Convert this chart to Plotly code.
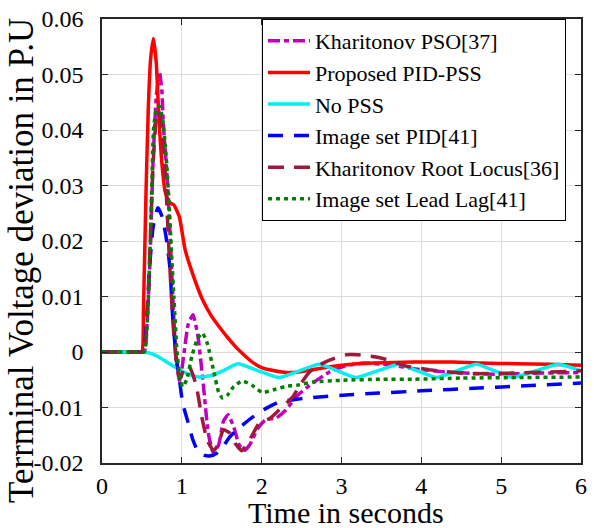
import plotly.graph_objects as go

# ---- data ----
t_pso = [0, 0.45, 0.53, 0.56, 0.6, 0.64, 0.68, 0.72, 0.75, 0.77, 0.81, 0.85, 0.89, 0.93, 0.975, 1.02, 1.08, 1.14,
         1.2, 1.27, 1.33, 1.39, 1.46, 1.52, 1.58, 1.65, 1.72, 1.79, 1.86, 1.95, 2.05, 2.18, 2.3, 2.43, 2.6,
         2.85, 3.05, 3.27, 3.6, 3.9, 4.31, 4.93, 5.5, 6.0]
v_pso = [0, 0, 0, 0.004, 0.016, 0.0345, 0.046, 0.0505, 0.047, 0.0405, 0.0328, 0.022, 0.009, -0.0015, -0.0056,
         -0.001, 0.005, 0.0067, 0.003, -0.006, -0.0145, -0.018, -0.0168, -0.0125, -0.0113, -0.0135, -0.0168,
         -0.0177, -0.0165, -0.0138, -0.0122, -0.0119, -0.0105, -0.0081, -0.006, -0.0036, -0.0025, -0.002,
         -0.0023, -0.003, -0.0036, -0.004, -0.0038, -0.0037]

t_pid = [0, 0.45, 0.5, 0.52, 0.55, 0.58, 0.61, 0.645, 0.68, 0.71, 0.75, 0.79, 0.84, 0.9, 0.97, 1.04, 1.15, 1.26,
         1.37, 1.47, 1.58, 1.69, 1.8, 1.9, 2.0, 2.1, 2.25, 2.4, 2.6, 2.8, 3.06, 3.4, 3.9, 4.4, 4.74, 5.2, 5.6, 6.0]
v_pid = [0, 0, 0, 0.008, 0.028, 0.044, 0.053, 0.0565, 0.052, 0.043, 0.034, 0.029, 0.027, 0.0265, 0.0243,
         0.0185, 0.0135, 0.0094, 0.0065, 0.0045, 0.0025, 0.0007, -0.0008, -0.002, -0.0028, -0.0032, -0.0036,
         -0.0037, -0.0033, -0.0028, -0.0023, -0.002, -0.0018, -0.0018, -0.002, -0.0021, -0.0022, -0.0024]

t_nopss = [0, 0.45, 0.5, 0.6, 0.7, 0.81, 0.95, 1.08, 1.2, 1.35, 1.5, 1.7, 1.96, 2.22, 2.47, 2.72, 2.95, 3.18,
           3.45, 3.72, 3.95, 4.19, 4.44, 4.69, 4.92, 5.14, 5.43, 5.72, 6.0]
v_nopss = [0, 0, 0, -0.0002, -0.0008, -0.0018, -0.003, -0.004, -0.0045, -0.0043, -0.0035, -0.0021, -0.0034,
           -0.0046, -0.0034, -0.0022, -0.0034, -0.0046, -0.0034, -0.0022, -0.0034, -0.0046, -0.0034, -0.0022,
           -0.0034, -0.0046, -0.0034, -0.0022, -0.0034]

t_img_pid = [0, 0.45, 0.52, 0.56, 0.6, 0.64, 0.7, 0.75, 0.8, 0.85, 0.89, 0.93, 0.97, 1.01, 1.08, 1.14, 1.2, 1.28,
             1.36, 1.44, 1.52, 1.6, 1.75, 1.89, 2.05, 2.22, 2.4, 2.56, 2.8, 3.1, 3.47, 4.0, 4.72, 5.3, 6.0]
v_img_pid = [0, 0, 0, 0.006, 0.016, 0.0225, 0.026, 0.0245, 0.021, 0.0153, 0.0052, -0.0009, -0.005, -0.0092,
             -0.0128, -0.0159, -0.0178, -0.0186, -0.0187, -0.0182, -0.017, -0.0153, -0.0133, -0.0117, -0.0102,
             -0.009, -0.0086, -0.0083, -0.008, -0.0077, -0.0074, -0.007, -0.0065, -0.0061, -0.0056]

t_rl = [0, 0.45, 0.53, 0.56, 0.6, 0.64, 0.68, 0.71, 0.75, 0.79, 0.84, 0.89, 0.94, 0.98, 1.04, 1.1, 1.18, 1.25,
        1.32, 1.4, 1.46, 1.52, 1.6, 1.67, 1.75, 1.85, 1.97, 2.1, 2.25, 2.39, 2.5, 2.6, 2.77, 2.9, 3.06, 3.2,
        3.43, 3.6, 3.8, 4.1, 4.6, 5.14, 5.6, 6.0]
v_rl = [0, 0, 0, 0.005, 0.018, 0.034, 0.042, 0.0435, 0.041, 0.033, 0.018, 0.005, -0.003, -0.0048, -0.0025,
        -0.0028, -0.006, -0.0117, -0.016, -0.0178, -0.0165, -0.014, -0.0146, -0.0165, -0.0178, -0.0158,
        -0.0128, -0.012, -0.01, -0.0081, -0.0055, -0.0036, -0.002, -0.0012, -0.0005, -0.0005, -0.0009,
        -0.0015, -0.0025, -0.0032, -0.0039, -0.0038, -0.0036, -0.0034]

t_ll = [0, 0.45, 0.53, 0.57, 0.61, 0.645, 0.68, 0.72, 0.76, 0.8, 0.84, 0.87, 0.9, 0.94, 0.98, 1.01, 1.06, 1.13,
        1.2, 1.26, 1.32, 1.4, 1.46, 1.51, 1.57, 1.65, 1.76, 1.88, 2.01, 2.15, 2.3, 2.44, 2.64, 3.0, 3.5, 3.9,
        4.5, 5.2, 6.0]
v_ll = [0, 0, 0, 0.006, 0.022, 0.04, 0.0437, 0.0443, 0.042, 0.036, 0.027, 0.018, 0.01, 0.0, -0.005, -0.0063,
        -0.005, -0.0005, 0.0025, 0.0034, 0.0015, -0.0035, -0.0072, -0.0083, -0.0078, -0.0062, -0.0052,
        -0.006, -0.0073, -0.0068, -0.0062, -0.006, -0.0054, -0.0051, -0.0049, -0.0049, -0.0047, -0.0046,
        -0.0045]

names = ["Kharitonov PSO[37]", "Proposed PID-PSS", "No PSS", "Image set PID[41]",
         "Kharitonov Root Locus[36]", "Image set Lead Lag[41]"]

y_tickvals = [-0.02, -0.01, 0, 0.01, 0.02, 0.03, 0.04, 0.05, 0.06]
y_ticktext = ["-0.02", "-0.01", "0", "0.01", "0.02", "0.03", "0.04", "0.05", "0.06"]
x_tickvals = [0, 1, 2, 3, 4, 5, 6]
x_ticktext = ["0", "1", "2", "3", "4", "5", "6"]
y_title = "Terrminal Voltage deviation in P.U"
x_title = "Time in seconds"

# ---- styles ----
series = [
    (t_pso, v_pso, "#C000C0", "12px,4px,5px,4px"),
    (t_pid, v_pid, "#FF0000", "solid"),
    (t_nopss, v_nopss, "#00F0F0", "solid"),
    (t_img_pid, v_img_pid, "#0000FF", "15px,11px"),
    (t_rl, v_rl, "#A0183A", "16px,10px"),
    (t_ll, v_ll, "#007F00", "4px,4px"),
]

FONT = "Times New Roman, Liberation Serif, serif"
fig = go.Figure()
for (tt, vv, col, dash), nm in zip(series, names):
    fig.add_trace(go.Scatter(
        x=tt, y=vv, mode="lines", name=nm,
        line=dict(color=col, width=3.5, dash=dash, shape="spline", smoothing=0.45),
    ))

fig.update_layout(
    width=594, height=528,
    margin=dict(l=102, r=13, t=19, b=65, autoexpand=False),
    paper_bgcolor="white", plot_bgcolor="white",
    font=dict(family=FONT, color="black", size=24),
    legend=dict(
        x=0.334, y=1.0, xanchor="left", yanchor="top",
        bgcolor="white", bordercolor="black", borderwidth=1,
        font=dict(family=FONT, size=22, color="black"),
        tracegroupgap=0, itemwidth=42,
    ),
    xaxis=dict(
        range=[0, 6], tickvals=x_tickvals, ticktext=x_ticktext,
        showgrid=True, gridcolor="#DCDCDC", gridwidth=1,
        showline=True, linecolor="#262626", linewidth=1.5, mirror="ticks",
        ticks="inside", ticklen=6, tickcolor="#262626", tickwidth=1.2,
        zeroline=False, automargin=False,
        tickfont=dict(family=FONT, size=24),
    ),
    yaxis=dict(
        range=[-0.02, 0.06], tickvals=y_tickvals, ticktext=y_ticktext,
        showgrid=True, gridcolor="#DCDCDC", gridwidth=1,
        showline=True, linecolor="#262626", linewidth=1.5, mirror="ticks",
        ticks="inside", ticklen=6, tickcolor="#262626", tickwidth=1.2,
        zeroline=False, ticklabelstandoff=12, automargin=False,
        tickfont=dict(family=FONT, size=24),
    ),
    annotations=[
        dict(text=y_title, textangle=-90, showarrow=False,
             xref="paper", yref="paper", x=0, y=0.455, xanchor="center", yanchor="middle",
             xshift=-80, font=dict(family=FONT, size=35, color="black")),
        dict(text=x_title, showarrow=False,
             xref="paper", yref="paper", x=0.51, y=0, xanchor="center", yanchor="middle",
             yshift=-49, font=dict(family=FONT, size=30, color="black")),
    ],
)

fig.write_html("out.html")
